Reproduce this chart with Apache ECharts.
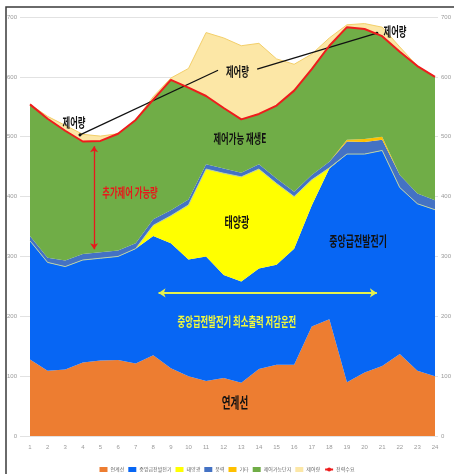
<!DOCTYPE html>
<html>
<head>
<meta charset="utf-8">
<script src="https://cdn.jsdelivr.net/npm/echarts@6/dist/echarts.min.js"></script>
<style>
  html, body { margin: 0; padding: 0; background: #fff; }
  #chart { width: 454px; height: 474px; }
</style>
</head>
<body>
<div id="chart"></div>
<script>
// Hourly supply stack (MW) and demand, hours 1..24
const hours = [1,2,3,4,5,6,7,8,9,10,11,12,13,14,15,16,17,18,19,20,21,22,23,24];
const interconnect = [128,109,111,123,126,127,121,135,113,100,92,97,89,112,119,119,183,195,90,106,117,137,109,100];
const centralGen   = [198,181,172,171,171,173,192,199,209,195,208,172,169,168,167,194,202,252,381,365,360,278,279,278];
const solar        = [0,0,0,0,0,0,0,18,46,91,146,170,175,166,136,87,43,1,0,0,0,0,0,0];
const wind         = [8,8,10,10,10,10,9,10,9,9,8,8,7,8,8,8,8,10,21,20,18,21,17,16];
const others       = [0,0,0,0,0,0,0,0,0,0,0,0,0,0,0,0,0,0,3,5,5,0,0,0];
const controllable = [220,232,217,188,186,195,206,200,218,187,114,101,89,84,122,169,177,194,188,184,168,206,213,206];
const curtailment  = [0,4,9,12,8,0,0,5,3,32,106,117,123,118,78,44,25,13,4,9,15,8,0,0];
const demand       = [554,530,510,492,493,505,528,562,595,582,568,548,529,538,552,577,613,652,683,680,668,642,618,600];

const seriesNames = ['연계선','중앙급전발전기','태양광','풍력','기타','제어가능단지','제어량','전력수요'];
const yTicks = { min: 0, max: 700, step: 100 };

const KFONT = '"Noto Sans CJK KR", "Noto Sans", sans-serif';

function area(name, values, color, line) {
  return {
    name, type: 'line', stack: 'supply', xAxisIndex: 0, yAxisIndex: 0,
    data: values, symbol: 'none', showSymbol: false,
    lineStyle: line || { width: 0 },
    areaStyle: { color, opacity: 1 },
    itemStyle: { color },
    z: 2
  };
}

const chart = echarts.init(document.getElementById('chart'), null, { renderer: 'canvas' });

const option = {
  animation: false,
  backgroundColor: '#ffffff',
  grid: [
    { left: 30, right: 19, top: 17, bottom: 38 },
    { left: 20, right: 10, top: 17, bottom: 38 }
  ],
  xAxis: [
    { type: 'category', gridIndex: 0, data: hours.map(String), boundaryGap: false,
      axisLine: { show: false }, axisTick: { show: false }, splitLine: { show: false },
      axisLabel: { fontSize: 6, color: '#9a9a9a', margin: 8, interval: 0 } },
    { type: 'value', gridIndex: 1, min: 0, max: 1, show: false },
    // continuous hour axis for the demand line and annotations
    { type: 'value', gridIndex: 0, min: 1, max: 24, show: false }
  ],
  yAxis: [
    { type: 'value', gridIndex: 0, min: yTicks.min, max: yTicks.max, interval: yTicks.step, show: false },
    { type: 'value', gridIndex: 1, position: 'left', min: yTicks.min, max: yTicks.max, interval: yTicks.step,
      axisLine: { show: false }, axisTick: { show: false },
      splitLine: { lineStyle: { color: '#e2e2e2', width: 1 } },
      axisLabel: { fontSize: 6, color: '#9a9a9a', margin: 3 } },
    { type: 'value', gridIndex: 1, position: 'right', min: yTicks.min, max: yTicks.max, interval: yTicks.step,
      axisLine: { show: false }, axisTick: { show: false }, splitLine: { show: false },
      axisLabel: { fontSize: 6, color: '#9a9a9a', margin: 3 } }
  ],
  legend: {
    top: 462, left: 'center', itemWidth: 8, itemHeight: 5, itemGap: 4,
    textStyle: { fontSize: 5, color: '#666', fontFamily: KFONT, padding: [0, 0, 0, -2] },
    data: [
      { name: seriesNames[0], icon: 'rect' },
      { name: seriesNames[1], icon: 'rect' },
      { name: seriesNames[2], icon: 'rect' },
      { name: seriesNames[3], icon: 'rect' },
      { name: seriesNames[4], icon: 'rect' },
      { name: seriesNames[5], icon: 'rect' },
      { name: seriesNames[6], icon: 'rect' },
      { name: seriesNames[7] }
    ]
  },
  series: [
    area(seriesNames[0], interconnect, '#ED7D31'),
    area(seriesNames[1], centralGen, '#0766F4'),
    area(seriesNames[2], solar, '#FFFF00', { width: 1, color: '#b9d1a6' }),
    area(seriesNames[3], wind, '#4472C4'),
    area(seriesNames[4], others, '#FFC000'),
    area(seriesNames[5], controllable, '#70AD47'),
    area(seriesNames[6], curtailment, '#FCE7A6', { width: 1, color: '#F3CF6A' }),
    {
      name: seriesNames[7], type: 'line', xAxisIndex: 2, yAxisIndex: 0,
      data: hours.map((h, i) => [h, demand[i]]), symbol: 'none', showSymbol: false,
      lineStyle: { color: '#EE1C1C', width: 2 }, itemStyle: { color: '#EE1C1C' },
      z: 5,
      markLine: {
        silent: true, animation: false, label: { show: false },
        data: [
          // additional controllable range (red double arrow)
          [ { coord: [4.64, 312], symbol: 'arrow', symbolSize: 6, lineStyle: { color: '#E8181C', width: 1.3, type: 'solid' } },
            { coord: [4.64, 484], symbol: 'arrow', symbolSize: 6 } ],
          // minimum-output reduction span (yellow double arrow)
          [ { coord: [8.3, 239], symbol: 'arrow', symbolSize: 7, lineStyle: { color: '#E4F14E', width: 2.2, type: 'solid' } },
            { coord: [20.7, 239], symbol: 'arrow', symbolSize: 7 } ],
          // curtailment pointer line
          [ { coord: [3.84, 503], symbol: 'circle', symbolSize: 3, lineStyle: { color: '#111', width: 1.3, type: 'solid' } },
            { coord: [11.68, 611], symbol: 'none' } ],
          [ { coord: [13.9, 613], symbol: 'none', lineStyle: { color: '#111', width: 1.3, type: 'solid' } },
            { coord: [20.7, 673], symbol: 'circle', symbolSize: 3 } ]
        ]
      }
    }
  ]
};

chart.setOption(option);

// Text annotations placed in data coordinates (hour, MW)
const notes = [
  { text: '제어량', at: [3.50, 525], color: '#111', size: 13 },
  { text: '제어량', at: [12.78, 609], color: '#111', size: 13 },
  { text: '제어량', at: [21.73, 676], color: '#111', size: 13 },
  { text: '제어가능 재생E', at: [12.92, 498], color: '#111', size: 13 },
  { text: '추가제어 가능량', at: [6.68, 408], color: '#E8181C', size: 13 },
  { text: '태양광', at: [12.75, 358], color: '#111', size: 14 },
  { text: '중앙급전발전기', at: [19.63, 326], color: '#111', size: 14 },
  { text: '중앙급전발전기 최소출력 저감운전', at: [12.75, 192], color: '#F2FA3C', size: 13 },
  { text: '연계선', at: [12.64, 57], color: '#111', size: 15 }
];

const graphics = notes.map(n => {
  const p = chart.convertToPixel({ xAxisIndex: 2, yAxisIndex: 0 }, n.at);
  return {
    type: 'text', x: p[0], y: p[1], scaleX: 0.64, scaleY: 1, z: 100,
    style: {
      text: n.text, fill: n.color, font: 'bold ' + n.size + 'px ' + KFONT,
      textAlign: 'center', textVerticalAlign: 'middle'
    }
  };
});

// outer frame
graphics.push({
  type: 'rect', z: 100, silent: true,
  shape: { x: 6, y: 7, width: 470, height: 490 },
  style: { fill: 'none', stroke: '#3a3a3a', lineWidth: 1.5 }
});

chart.setOption({ graphic: graphics });
</script>
</body>
</html>
